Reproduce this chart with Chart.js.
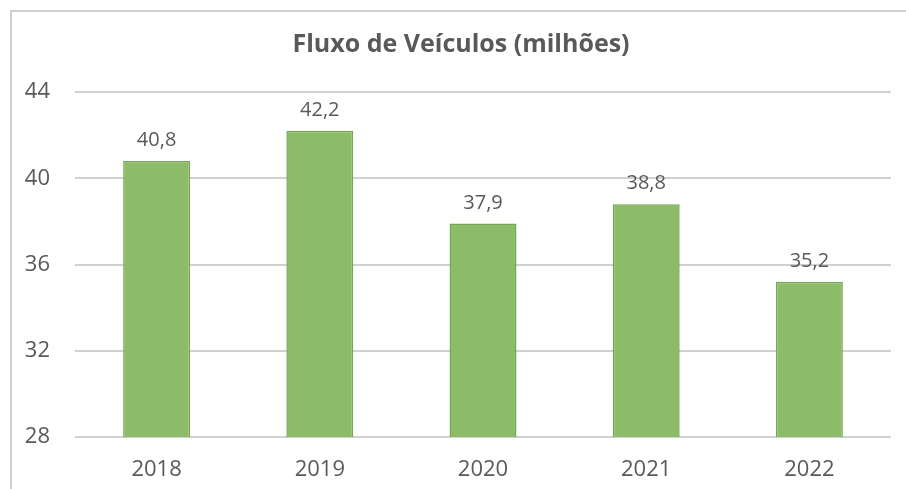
<!DOCTYPE html>
<html>
<head>
<meta charset="utf-8">
<script src="https://cdn.jsdelivr.net/npm/chart.js@4"></script>
<style>
  html, body { margin: 0; padding: 0; background: #fff; overflow: hidden; }
  #wrap { position: relative; width: 906px; height: 489px; }
  #frame { position: absolute; left: 10px; top: 10px; width: 920px; height: 500px;
           border-left: 2px solid #d0d0d0; border-top: 2px solid #d0d0d0; }
  canvas { position: absolute; left: 0; top: 0; }
</style>
</head>
<body>
<div id="wrap">
  <div id="frame"></div>
  <canvas id="myChart" width="906" height="489"></canvas>
</div>
<script>
  var chartTitle = 'Fluxo de Veículos (milhões)';
  var years = ['2018', '2019', '2020', '2021', '2022'];
  var fluxo = [40.8, 42.2, 37.9, 38.8, 35.2];
  var yTicks = [28, 32, 36, 40, 44];

  var textColor = '#595959';
  var fontName = "'Open Sans', 'Liberation Sans', sans-serif";

  // writes the value over each bar, with a comma as decimal mark
  var barLabels = {
    id: 'barLabels',
    afterDatasetsDraw: function (chart) {
      var ctx = chart.ctx;
      var meta = chart.getDatasetMeta(0);
      ctx.save();
      ctx.fillStyle = textColor;
      ctx.font = '20px ' + fontName;
      ctx.textAlign = 'center';
      ctx.textBaseline = 'alphabetic';
      meta.data.forEach(function (bar, i) {
        var txt = fluxo[i].toFixed(1).replace('.', ',');
        ctx.fillText(txt, bar.x, bar.y - 15);
      });
      ctx.restore();
    }
  };

  // title sits a bit right of the canvas middle, like the original
  var titleText = {
    id: 'titleText',
    afterDraw: function (chart) {
      var ctx = chart.ctx;
      ctx.save();
      ctx.fillStyle = textColor;
      ctx.font = 'bold 25px ' + fontName;
      ctx.textAlign = 'center';
      ctx.textBaseline = 'middle';
      ctx.fillText(chartTitle, chart.width / 2 + 8, 45);
      ctx.restore();
    }
  };

  new Chart(document.getElementById('myChart'), {
    type: 'bar',
    data: {
      labels: years,
      datasets: [{
        label: chartTitle,
        data: fluxo,
        backgroundColor: '#8cbc68',
        borderColor: '#74a651',
        borderWidth: 1.5,
        barPercentage: 0.41,
        categoryPercentage: 1.0
      }]
    },
    options: {
      responsive: false,
      animation: false,
      layout: { padding: { left: 0, right: 15, top: 92, bottom: 0 } },
      plugins: {
        legend: { display: false },
        tooltip: { enabled: false },
        title: { display: false }
      },
      scales: {
        y: {
          min: 28,
          max: 44,
          afterFit: function (scale) { scale.width = 75; },
          afterBuildTicks: function (scale) {
            scale.ticks = yTicks.map(function (v) { return { value: v }; });
          },
          border: { display: false },
          grid: { color: '#d0d0d0', lineWidth: 2, drawTicks: false },
          ticks: {
            color: textColor,
            padding: 25,
            font: { family: fontName, size: 22 }
          }
        },
        x: {
          afterFit: function (scale) { scale.height = 52; },
          border: { display: false },
          grid: { display: false, drawTicks: false },
          ticks: {
            color: textColor,
            padding: 20,
            font: { family: fontName, size: 22 }
          }
        }
      }
    },
    plugins: [barLabels, titleText]
  });
</script>
</body>
</html>
